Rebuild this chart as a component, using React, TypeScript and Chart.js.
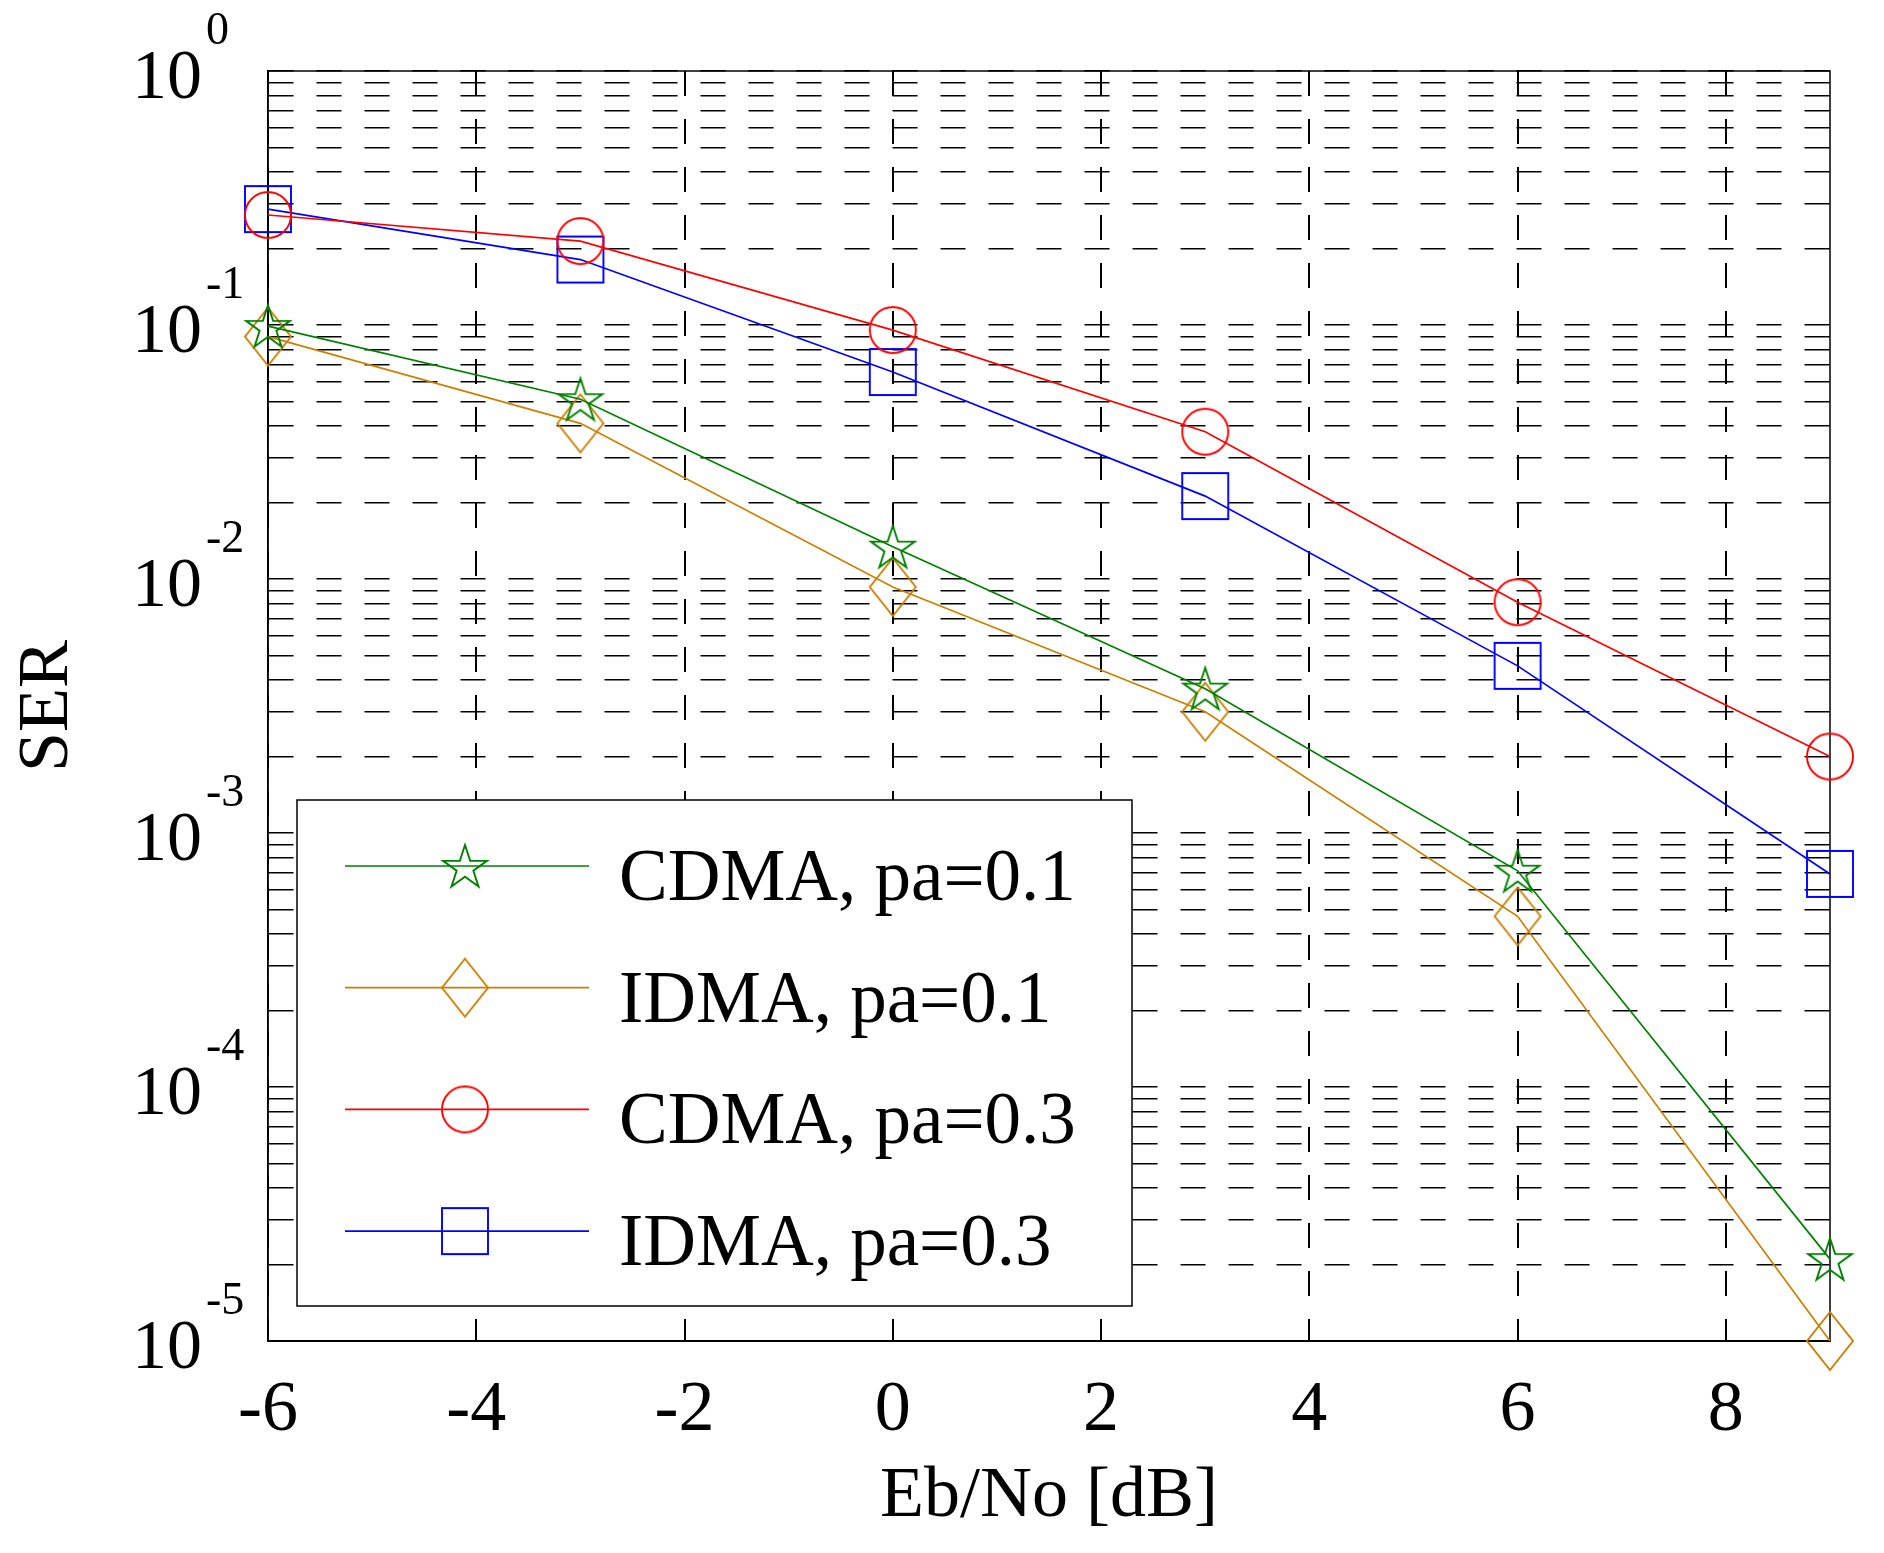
import { useEffect, useRef } from 'react'
import { Chart, registerables } from 'chart.js'

Chart.register(...registerables)

// Eb/No [dB] sample points
const ebNo = [-6, -3, 0, 3, 6, 9]
// SER
const cdma01 = [0.099, 0.051, 0.0134, 0.0037, 0.00071, 2.1e-5]
const idma01 = [0.09, 0.041, 0.0093, 0.003, 0.00047, 1.0e-5]
const cdma03 = [0.271, 0.214, 0.0955, 0.038, 0.0081, 0.002]
const idma03 = [0.286, 0.181, 0.0653, 0.0212, 0.00455, 0.00069]

const xTicks = [-6, -4, -2, 0, 2, 4, 6, 8]
const yDecades = [-5, -4, -3, -2, -1, 0]
const yMinorSteps = [2, 3, 4, 5, 6, 7, 8, 9]

const FONT = 'Liberation Serif'

type Shape = 'star' | 'diamond' | 'circle' | 'square'

const series: { label: string; data: number[]; color: string; shape: Shape }[] = [
  { label: 'CDMA, pa=0.1', data: cdma01, color: '#008000', shape: 'star' },
  { label: 'IDMA, pa=0.1', data: idma01, color: '#cc7f00', shape: 'diamond' },
  { label: 'CDMA, pa=0.3', data: cdma03, color: '#ff0000', shape: 'circle' },
  { label: 'IDMA, pa=0.3', data: idma03, color: '#0000ff', shape: 'square' },
]

function makeMarker(shape: Shape, color: string) {
  const c = document.createElement('canvas')
  c.width = 70
  c.height = 70
  const g = c.getContext('2d')!
  const cx = 35, cy = 35
  g.strokeStyle = color
  g.lineWidth = 1.9
  g.lineJoin = 'miter'
  g.beginPath()
  if (shape === 'star') {
    const R = 23, r = R * 0.382
    for (let i = 0; i < 10; i++) {
      const a = -Math.PI / 2 + (i * Math.PI) / 5
      const rad = i % 2 === 0 ? R : r
      const px = cx + rad * Math.cos(a), py = cy + 2 + rad * Math.sin(a)
      if (i === 0) g.moveTo(px, py)
      else g.lineTo(px, py)
    }
    g.closePath()
  } else if (shape === 'diamond') {
    g.moveTo(cx, cy - 29)
    g.lineTo(cx + 23, cy)
    g.lineTo(cx, cy + 29)
    g.lineTo(cx - 23, cy)
    g.closePath()
  } else if (shape === 'circle') {
    g.arc(cx, cy, 23, 0, Math.PI * 2)
  } else {
    g.rect(cx - 23, cy - 23, 46, 46)
  }
  g.stroke()
  return c
}

const yTickValues: number[] = []
yDecades.forEach(e => {
  yTickValues.push(Math.pow(10, e))
  if (e < 0) yMinorSteps.forEach(m => yTickValues.push(m * Math.pow(10, e)))
})

export default function App() {
  const canvasRef = useRef<HTMLCanvasElement>(null)
  const chartRef = useRef<Chart | null>(null)

  useEffect(() => {
    if (!canvasRef.current) return
    document.body.style.margin = '0'
    chartRef.current?.destroy()

    const markers = series.map(s => makeMarker(s.shape, s.color))

    const framePlugin = {
      id: 'frame',
      beforeDatasetsDraw(chart: Chart) {
        const { ctx, chartArea: a } = chart
        ctx.save()
        ctx.strokeStyle = '#000'
        ctx.lineWidth = 1.5
        ctx.strokeRect(a.left, a.top, a.right - a.left, a.bottom - a.top)
        ctx.restore()
      },
    }

    // 10^n labels with superscript exponents
    const yLabelPlugin = {
      id: 'yLabels',
      afterDraw(chart: Chart) {
        const { ctx, chartArea: a } = chart
        const y = chart.scales.y
        ctx.save()
        ctx.fillStyle = '#000'
        yDecades.forEach(e => {
          const py = y.getPixelForValue(Math.pow(10, e))
          ctx.font = `70px "${FONT}"`
          ctx.textAlign = 'right'
          ctx.textBaseline = 'alphabetic'
          ctx.fillText('10', a.left - 66, py + 27)
          ctx.font = `46px "${FONT}"`
          ctx.textAlign = 'left'
          ctx.fillText(String(e), a.left - 62, py - 27)
        })
        ctx.restore()
      },
    }

    const legendPlugin = {
      id: 'boxLegend',
      afterDatasetsDraw(chart: Chart) {
        const { ctx, chartArea: a } = chart
        const left = a.left + 29
        const top = a.top + 729
        ctx.save()
        ctx.fillStyle = '#fff'
        ctx.fillRect(left, top, 835, 506)
        ctx.strokeStyle = '#000'
        ctx.lineWidth = 1.5
        ctx.strokeRect(left, top, 835, 506)
        series.forEach((s, i) => {
          const ry = top + 66 + i * 121.7
          ctx.strokeStyle = s.color
          ctx.lineWidth = 1.7
          ctx.beginPath()
          ctx.moveTo(left + 48, ry)
          ctx.lineTo(left + 292, ry)
          ctx.stroke()
          const m = markers[i]
          ctx.drawImage(m, left + 168 - m.width / 2, ry - m.height / 2)
          ctx.fillStyle = '#000'
          ctx.font = `73px "${FONT}"`
          ctx.textAlign = 'left'
          ctx.textBaseline = 'alphabetic'
          ctx.fillText(s.label, left + 322, ry + 34)
        })
        ctx.restore()
      },
    }

    chartRef.current = new Chart(canvasRef.current, {
      type: 'line',
      data: {
        datasets: series.map((s, i) => ({
          label: s.label,
          data: ebNo.map((x, j) => ({ x, y: s.data[j] })),
          borderColor: s.color,
          backgroundColor: s.color,
          borderWidth: 1.7,
          pointStyle: markers[i],
          pointRadius: 23,
          pointHoverRadius: 23,
          fill: false,
          tension: 0,
          clip: false,
        })),
      },
      options: {
        responsive: true,
        maintainAspectRatio: false,
        animation: false,
        layout: { padding: { top: 71, right: 54, bottom: 0, left: 0 } },
        plugins: {
          legend: { display: false },
          tooltip: { enabled: false },
        },
        scales: {
          x: {
            type: 'linear',
            min: -6,
            max: 9,
            afterBuildTicks: scale => {
              scale.ticks = xTicks.map(v => ({ value: v }))
            },
            afterFit: scale => {
              scale.height = 212
            },
            ticks: {
              color: '#000',
              font: { family: FONT, size: 72 },
              padding: 27,
              maxRotation: 0,
              autoSkip: false,
              callback: v => String(v),
            },
            grid: { color: '#000', lineWidth: 2, drawTicks: false },
            border: { display: true, color: '#000', width: 2, dash: [25, 23] },
            title: {
              display: true,
              text: 'Eb/No [dB]',
              color: '#000',
              font: { family: FONT, size: 72 },
              padding: { top: 0, bottom: 13 },
            },
          },
          y: {
            type: 'logarithmic',
            min: 1e-5,
            max: 1,
            afterBuildTicks: scale => {
              scale.ticks = yTickValues.map(v => ({ value: v }))
            },
            afterFit: scale => {
              scale.width = 268
            },
            ticks: { display: false },
            grid: { color: '#000', lineWidth: 1.5, drawTicks: false },
            border: { display: true, color: '#000', width: 1.5, dash: [25, 23] },
            title: {
              display: true,
              text: 'SER',
              color: '#000',
              font: { family: FONT, size: 72 },
              padding: { top: 5, bottom: 0 },
            },
          },
        },
      },
      plugins: [framePlugin, yLabelPlugin, legendPlugin],
    })

    return () => {
      chartRef.current?.destroy()
      chartRef.current = null
    }
  }, [])

  return (
    <div style={{ width: 1884, height: 1553, background: '#fff', position: 'relative' }}>
      <canvas ref={canvasRef} />
    </div>
  )
}
